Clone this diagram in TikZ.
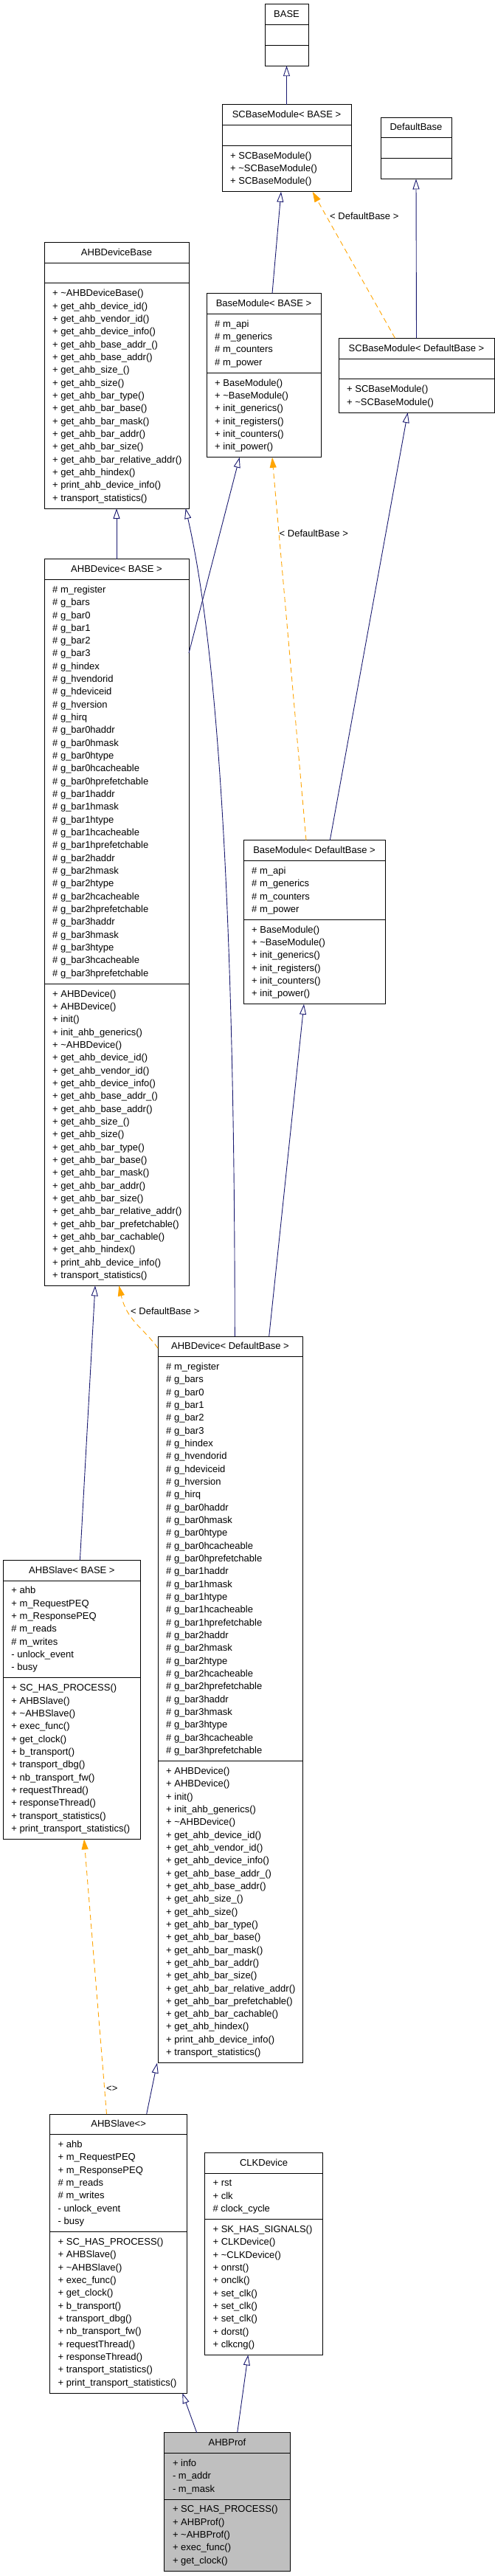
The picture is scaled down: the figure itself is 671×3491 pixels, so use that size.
\documentclass[tikz,border=0pt]{standalone}
\usepackage{fontspec}
\setmainfont{Liberation Sans}
\usetikzlibrary{arrows.meta}
\definecolor{edgeblue}{HTML}{191970}
\definecolor{edgeorange}{HTML}{FFA500}
\definecolor{proffill}{HTML}{BFBFBF}
\newcommand\clsfont{\fontsize{13}{17.33}\selectfont}
\def\pp{17.33}
\def\boxfill{white}
\tikzset{
  classbox/.style={draw=black, line width=1pt, inner sep=0pt, outer sep=0pt, anchor=north west},
  sepline/.style={draw=black, line width=1pt},
  txt/.style={anchor=base west, inner sep=0pt},
  lbl/.style={anchor=west, inner sep=0pt},
  inh/.style={draw=edgeblue, line width=0.9pt, -{Triangle[open, length=14pt, width=9pt, fill=white]}},
  tmpl/.style={draw=edgeorange, line width=0.9pt, dash pattern=on 7pt off 5pt, -{Triangle[length=14pt, width=9pt]}},
}
\newcommand\umlbox[9]{%
  \pgfmathsetmacro\hT{\pp+10.5}%
  \pgfmathsetmacro\hA{max(#6,1)*\pp+10.5}%
  \pgfmathsetmacro\hM{max(#8,1)*\pp+10.5}%
  \pgfmathsetmacro\hTot{\hT+\hA+\hM}%
  \node[classbox, fill=\boxfill, minimum width=#4pt, minimum height=\hTot pt] (#1) at (#2,#3) {};
  \draw[sepline] ({#2},{#3+\hT}) -- ++(#4,0);
  \draw[sepline] ({#2},{#3+\hT+\hA}) -- ++(#4,0);
  \node[txt, anchor=base] (#1-title) at ({#2+#4/2},{#3+17.8}) {#5};
  \ifnum#6>0
    \foreach \itm [count=\cnt] in #7 {\node[txt] (#1-a\cnt) at ({#2+11},{#3+\hT+17.8+(\cnt-1)*\pp}) {\itm};}
  \fi
  \ifnum#8>0
    \foreach \itm [count=\cnt] in #9 {\node[txt] (#1-m\cnt) at ({#2+11},{#3+\hT+\hA+17.8+(\cnt-1)*\pp}) {\itm};}
  \fi
}
\def\Lnone{}
\def\LscbM{+ SCBaseModule(),+ \textasciitilde{}SCBaseModule(),+ SCBaseModule()}
\def\LscdM{+ SCBaseModule(),+ \textasciitilde{}SCBaseModule()}
\def\LbmA{\# m\_api,\# m\_generics,\# m\_counters,\# m\_power}
\def\LbmM{+ BaseModule(),+ \textasciitilde{}BaseModule(),+ init\_generics(),+ init\_registers(),+ init\_counters(),+ init\_power()}
\def\LadbM{+ \textasciitilde{}AHBDeviceBase(),+ get\_ahb\_device\_id(),+ get\_ahb\_vendor\_id(),+ get\_ahb\_device\_info(),+ get\_ahb\_base\_addr\_(),+ get\_ahb\_base\_addr(),+ get\_ahb\_size\_(),+ get\_ahb\_size(),+ get\_ahb\_bar\_type(),+ get\_ahb\_bar\_base(),+ get\_ahb\_bar\_mask(),+ get\_ahb\_bar\_addr(),+ get\_ahb\_bar\_size(),+ get\_ahb\_bar\_relative\_addr(),+ get\_ahb\_hindex(),+ print\_ahb\_device\_info(),+ transport\_statistics()}
\def\LadA{\# m\_register,\# g\_bars,\# g\_bar0,\# g\_bar1,\# g\_bar2,\# g\_bar3,\# g\_hindex,\# g\_hvendorid,\# g\_hdeviceid,\# g\_hversion,\# g\_hirq,\# g\_bar0haddr,\# g\_bar0hmask,\# g\_bar0htype,\# g\_bar0hcacheable,\# g\_bar0hprefetchable,\# g\_bar1haddr,\# g\_bar1hmask,\# g\_bar1htype,\# g\_bar1hcacheable,\# g\_bar1hprefetchable,\# g\_bar2haddr,\# g\_bar2hmask,\# g\_bar2htype,\# g\_bar2hcacheable,\# g\_bar2hprefetchable,\# g\_bar3haddr,\# g\_bar3hmask,\# g\_bar3htype,\# g\_bar3hcacheable,\# g\_bar3hprefetchable}
\def\LadM{+ AHBDevice(),+ AHBDevice(),+ init(),+ init\_ahb\_generics(),+ \textasciitilde{}AHBDevice(),+ get\_ahb\_device\_id(),+ get\_ahb\_vendor\_id(),+ get\_ahb\_device\_info(),+ get\_ahb\_base\_addr\_(),+ get\_ahb\_base\_addr(),+ get\_ahb\_size\_(),+ get\_ahb\_size(),+ get\_ahb\_bar\_type(),+ get\_ahb\_bar\_base(),+ get\_ahb\_bar\_mask(),+ get\_ahb\_bar\_addr(),+ get\_ahb\_bar\_size(),+ get\_ahb\_bar\_relative\_addr(),+ get\_ahb\_bar\_prefetchable(),+ get\_ahb\_bar\_cachable(),+ get\_ahb\_hindex(),+ print\_ahb\_device\_info(),+ transport\_statistics()}
\def\LslA{+ ahb,+ m\_RequestPEQ,+ m\_ResponsePEQ,\# m\_reads,\# m\_writes,- unlock\_event,- busy}
\def\LslM{+ SC\_HAS\_PROCESS(),+ AHBSlave(),+ \textasciitilde{}AHBSlave(),+ exec\_func(),+ get\_clock(),+ b\_transport(),+ transport\_dbg(),+ nb\_transport\_fw(),+ requestThread(),+ responseThread(),+ transport\_statistics(),+ print\_transport\_statistics()}
\def\LclkA{+ rst,+ clk,\# clock\_cycle}
\def\LclkM{+ SK\_HAS\_SIGNALS(),+ CLKDevice(),+ \textasciitilde{}CLKDevice(),+ onrst(),+ onclk(),+ set\_clk(),+ set\_clk(),+ set\_clk(),+ dorst(),+ clkcng()}
\def\LprA{+ info,- m\_addr,- m\_mask}
\def\LprM{+ SC\_HAS\_PROCESS(),+ AHBProf(),+ \textasciitilde{}AHBProf(),+ exec\_func(),+ get\_clock()}
\begin{document}
\begin{tikzpicture}[x=1pt, y=-1pt, font=\clsfont]
\useasboundingbox (0,0) rectangle (671,3491);
\fill[white] (0,0) rectangle (671,3491);
% classes
\umlbox{base}{359}{5.7}{59}{BASE}{0}{\Lnone}{0}{\Lnone}
\umlbox{scbb}{301}{141.7}{175}{SCBaseModule< BASE >}{0}{\Lnone}{3}{\LscbM}
\umlbox{defb}{516}{159}{96}{DefaultBase}{0}{\Lnone}{0}{\Lnone}
\umlbox{ahbdb}{60}{328.3}{196}{AHBDeviceBase}{0}{\Lnone}{17}{\LadbM}
\umlbox{bmb}{280}{397.7}{155}{BaseModule< BASE >}{4}{\LbmA}{6}{\LbmM}
\umlbox{scbd}{459}{458.3}{211}{SCBaseModule< DefaultBase >}{0}{\Lnone}{2}{\LscdM}
\umlbox{ahbdB}{60}{757.7}{196}{AHBDevice< BASE >}{31}{\LadA}{23}{\LadM}
\umlbox{bmd}{330}{1138.7}{192}{BaseModule< DefaultBase >}{4}{\LbmA}{6}{\LbmM}
\umlbox{ahbdd}{214}{1811}{196}{AHBDevice< DefaultBase >}{31}{\LadA}{23}{\LadM}
\umlbox{slb}{4.3}{2114.3}{186.2}{AHBSlave< BASE >}{7}{\LslA}{12}{\LslM}
\umlbox{sl}{67.5}{2865}{186.3}{AHBSlave<>}{7}{\LslA}{12}{\LslM}
\umlbox{clk}{277.4}{2917.3}{160.4}{CLKDevice}{3}{\LclkA}{10}{\LclkM}
\def\boxfill{proffill}
\umlbox{prof}{222.8}{3296.7}{170.3}{AHBProf}{3}{\LprA}{5}{\LprM}
% inheritance edges
\draw[inh] (scbb.north) -- (base.south);
\draw[inh] ([xshift=89pt]bmb.north west) -- ([xshift=80pt]scbb.south west);
\draw[inh] (scbd.north) -- (defb.south);
\draw[tmpl] ([xshift=76.5pt]scbd.north west) -- ([xshift=122.7pt]scbb.south west);
\node[lbl] (l1) at (447,293) {< DefaultBase >};
\draw[inh] (ahbdB.north) -- (ahbdb.south);
\draw[inh] ([yshift=-127.3pt]ahbdB.north east) -- ([xshift=44.7pt]bmb.south west);
\draw[inh] ([xshift=104.3pt]ahbdd.north west) .. controls (318.3,1300) and (300,900) .. ([xshift=191.6pt]ahbdb.south west);
\draw[inh] ([xshift=150.7pt]ahbdd.north west) -- ([xshift=82pt]bmd.south west);
\draw[tmpl] ([xshift=85pt]bmd.north west) -- ([xshift=89pt]bmb.south west);
\node[lbl] (l2) at (378.5,722.7) {< DefaultBase >};
\draw[inh] ([xshift=117.3pt]bmd.north west) -- ([xshift=93.7pt]scbd.south west);
\draw[inh] ([xshift=104.1pt]slb.north west) -- ([xshift=69pt]ahbdB.south west);
\draw[tmpl] ([yshift=-16pt]ahbdd.north west) .. controls (195,1800) and (172,1790) .. ([xshift=101.3pt]ahbdB.south west);
\node[lbl] (l3) at (177,1776.7) {< DefaultBase >};
\draw[tmpl] ([xshift=77pt]sl.north west) -- ([xshift=109.7pt]slb.south west);
\node[lbl] (l4) at (144,2830.7) {<>};
\draw[inh] ([xshift=131.2pt]sl.north west) -- ([xshift=-1pt]ahbdd.south west);
\draw[inh] ([xshift=43.9pt]prof.north west) -- ([xshift=179.8pt]sl.south west);
\draw[inh] ([xshift=98.9pt]prof.north west) -- ([xshift=58.9pt]clk.south west);
\end{tikzpicture}
\end{document}
